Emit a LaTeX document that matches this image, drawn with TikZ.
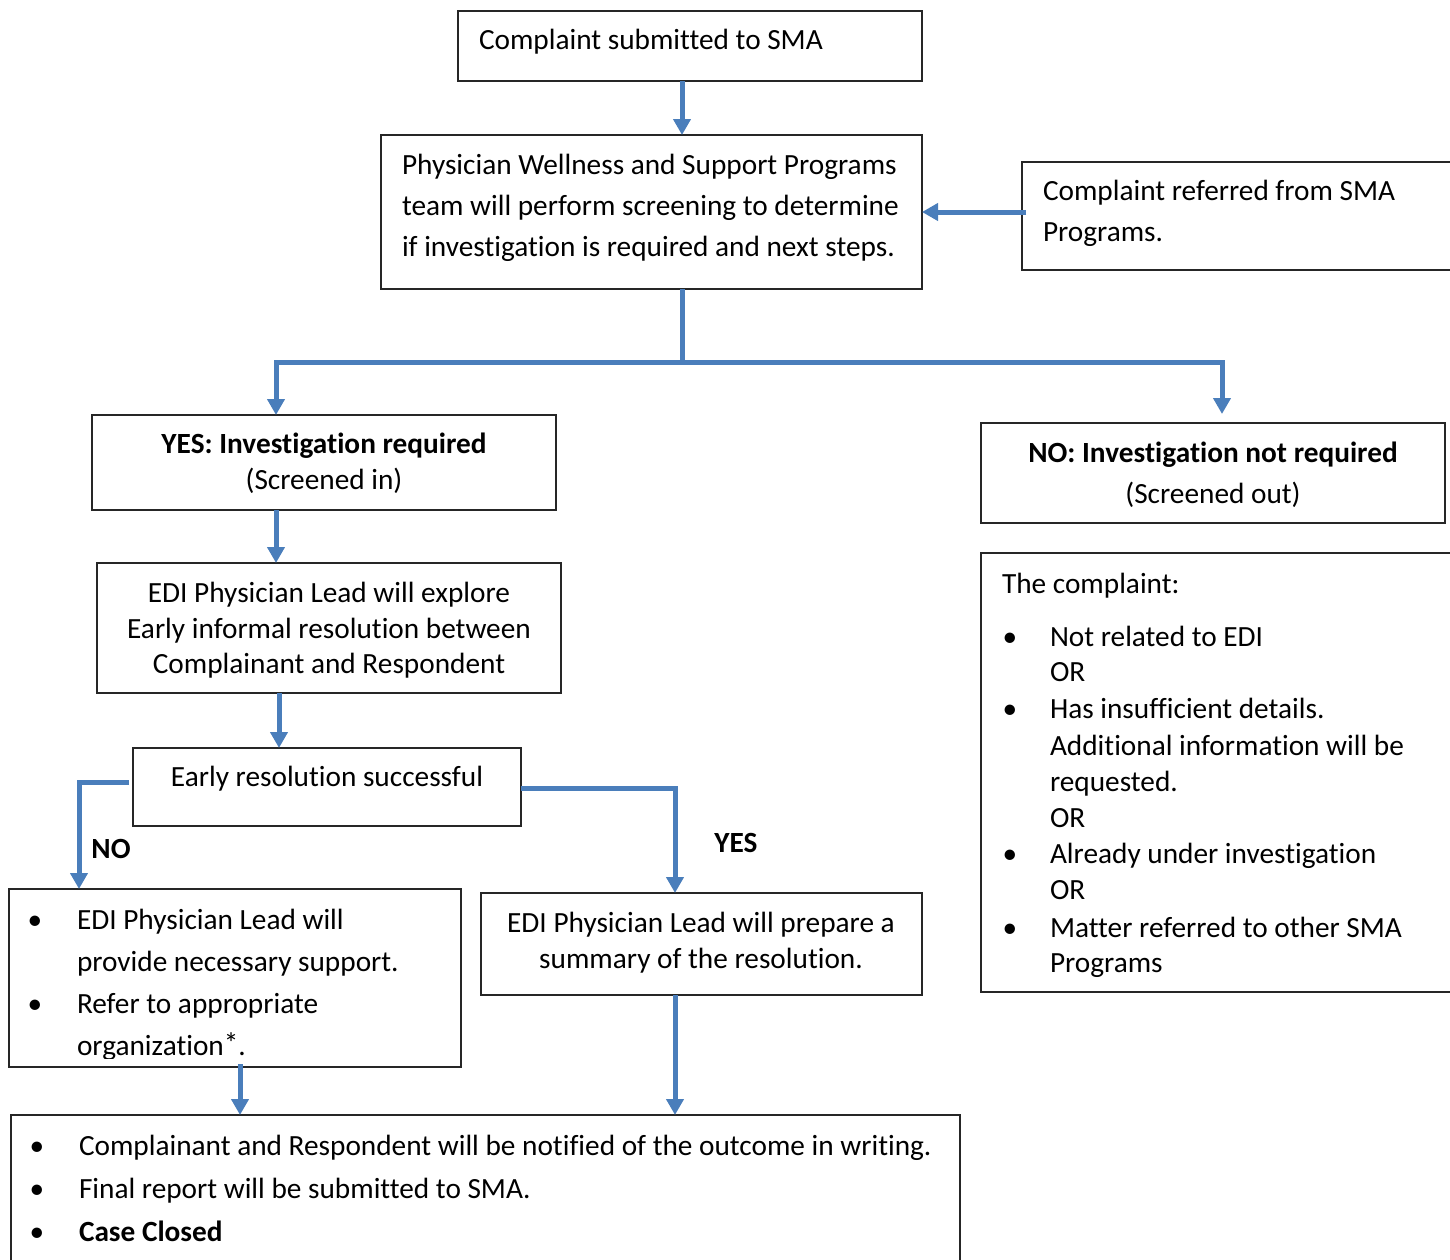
\documentclass[tikz,border=0pt]{standalone}
\usepackage{fontspec}
\setmainfont{Carlito}[Ligatures=NoCommon]
\usetikzlibrary{arrows.meta}
\definecolor{ablue}{RGB}{74,126,187}
\newcommand\fsz{\fontsize{29.3}{35}\selectfont}
\tikzset{
  box/.style={draw=black!85, line width=1.3pt, outer sep=0pt, inner sep=0pt, anchor=north west},
  txt/.style={font=\fsz, inner sep=0pt, outer sep=0pt, anchor=base west},
  ctxt/.style={font=\fsz, inner sep=0pt, outer sep=0pt, anchor=base},
  btxt/.style={font=\fsz\bfseries, inner sep=0pt, outer sep=0pt, anchor=base},
  bul/.style={font=\fsz, inner sep=0pt, outer sep=0pt, anchor=base},
  arr/.style={draw=ablue, line width=5pt, -{Triangle[length=16pt,width=17pt]}},
}
\begin{document}
\begin{tikzpicture}[x=1pt,y=-1pt]
\useasboundingbox (0,0) rectangle (1450,1259);

% boxes
\node[box, minimum width=464pt, minimum height=70pt] (b1) at (458,11) {};
\node[box, minimum width=541pt, minimum height=154pt] (b2) at (381,135) {};
\node[box, minimum width=440pt, minimum height=108pt] (b3) at (1022,162) {};
\node[box, minimum width=464pt, minimum height=95pt] (yes) at (92,415) {};
\node[box, minimum width=464pt, minimum height=100pt] (no) at (981,423) {};
\node[box, minimum width=464pt, minimum height=130pt] (edi) at (97,563) {};
\node[box, minimum width=388pt, minimum height=78pt] (early) at (133,748) {};
\node[box, minimum width=452pt, minimum height=178pt] (nob) at (9,889) {};
\node[box, minimum width=441pt, minimum height=102pt] (prep) at (481,893) {};
\node[box, minimum width=480pt, minimum height=439pt] (cpl) at (981,553) {};
\node[box, minimum width=949pt, minimum height=160pt] (fin) at (11,1115) {};

% texts
\node[txt] (t1) at (479,49) {Complaint submitted to SMA};
\node[txt] (t2a) at (402,174) {Physician Wellness and Support Programs};
\node[txt] (t2b) at (402,215) {team will perform screening to determine};
\node[txt] (t2c) at (402,256) {if investigation is required and next steps.};
\node[txt] (t3a) at (1043,200) {Complaint referred from SMA};
\node[txt] (t3b) at (1043,241) {Programs.};
\node[btxt] (tya) at (324,453) {YES: Investigation required};
\node[ctxt] (tyb) at (324,489) {(Screened in)};
\node[btxt] (tna) at (1213,462) {NO: Investigation not required};
\node[ctxt] (tnb) at (1213,503) {(Screened out)};
\node[ctxt] (tea) at (329,602) {EDI Physician Lead will explore};
\node[ctxt] (teb) at (329,638) {Early informal resolution between};
\node[ctxt] (tec) at (329,673) {Complainant and Respondent};
\node[ctxt] (tes) at (327,786) {Early resolution successful};
\node[ctxt] (tpa) at (701,932) {EDI Physician Lead will prepare a};
\node[ctxt] (tpb) at (701,968) {summary of the resolution.};
\node[btxt] (lno) at (111,858) {NO};
\node[btxt] (lyes) at (736,852) {YES};

% complaint box text
\node[txt] (c0) at (1002,593) {The complaint:};
\node[bul] (cb1) at (1010,646) {\textbullet};
\node[txt] (c1) at (1050,646) {Not related to EDI};
\node[txt] (c2) at (1050,681.5) {OR};
\node[bul] (cb2) at (1010,718.5) {\textbullet};
\node[txt] (c3) at (1050,718.5) {Has insufficient details.};
\node[txt] (c4) at (1050,755) {Additional information will be};
\node[txt] (c5) at (1050,791) {requested.};
\node[txt] (c6) at (1050,827) {OR};
\node[bul] (cb3) at (1010,863.5) {\textbullet};
\node[txt] (c7) at (1050,863.5) {Already under investigation};
\node[txt] (c8) at (1050,899.5) {OR};
\node[bul] (cb4) at (1010,937) {\textbullet};
\node[txt] (c9) at (1050,937) {Matter referred to other SMA};
\node[txt] (c10) at (1050,972.5) {Programs};

% NO box text (clipped at bottom like the source)
\begin{scope}
\clip (9,889) rectangle (461,1058);
\node[bul] (nb1) at (35,929) {\textbullet};
\node[txt] (n1) at (77,929) {EDI Physician Lead will};
\node[txt] (n2) at (77,971.5) {provide necessary support.};
\node[bul] (nb2) at (35,1013) {\textbullet};
\node[txt] (n3) at (77,1013) {Refer to appropriate};
\node[txt] (n4) at (77,1055) {organization\raisebox{1.5pt}{*}.};
\end{scope}

% final box text
\node[bul] (fb1) at (37,1155) {\textbullet};
\node[txt] (f1) at (79,1155) {Complainant and Respondent will be notified of the outcome in writing.};
\node[bul] (fb2) at (37,1198) {\textbullet};
\node[txt] (f2) at (79,1198) {Final report will be submitted to SMA.};
\node[bul] (fb3) at (37,1241.5) {\textbullet};
\node[txt, font=\fsz\bfseries] (f3) at (79,1241.5) {Case Closed};

% helper coordinates
\coordinate (x682) at (682,0);
\coordinate (x276) at (276,0);
\coordinate (x1222) at (1222,0);
\coordinate (x279) at (279,0);
\coordinate (x79) at (79,0);
\coordinate (x675) at (675,0);
\coordinate (x240) at (240,0);
\coordinate (y212) at (0,212);
\coordinate (y782) at (0,782);
\coordinate (y788) at (0,788);
\coordinate (j) at (682,362);

% connectors
\draw[arr] (b1.south -| x682) -- (b2.north -| x682);
\draw[arr] ([xshift=4pt]b3.west |- y212) -- (b2.east |- y212);
\draw[draw=ablue, line width=5pt] (b2.south -| x682) -- (j);
\draw[arr] ([xshift=2.5pt]j) -| (yes.north -| x276);
\draw[arr] ([xshift=-2.5pt]j) -| ([yshift=9pt]no.north -| x1222);
\draw[arr] (yes.south -| x276) -- (edi.north -| x276);
\draw[arr] (edi.south -| x279) -- (early.north -| x279);
\draw[arr] ([xshift=-4pt]early.west |- y782) -| (nob.north -| x79);
\draw[arr] (early.east |- y788) -| (prep.north -| x675);
\draw[arr] ([yshift=3pt]nob.south -| x240) -- (fin.north -| x240);
\draw[arr] (prep.south -| x675) -- (fin.north -| x675);
\end{tikzpicture}
\end{document}
